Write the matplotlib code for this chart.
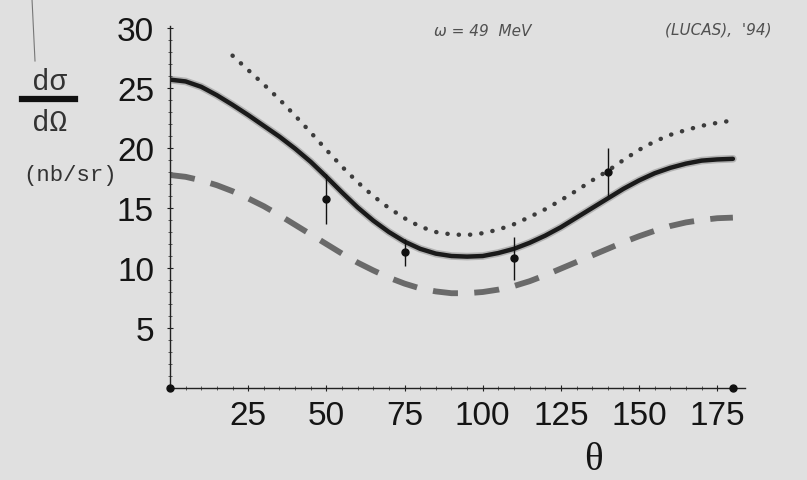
import matplotlib.pyplot as plt
from matplotlib.ticker import MultipleLocator
from matplotlib.lines import Line2D

# angles (deg) and cross sections (nb/sr)
theta = [0, 5, 10, 15, 20, 25, 30, 35, 40, 45, 50, 55, 60, 65, 70, 75, 80, 85, 90,
         95, 100, 105, 110, 115, 120, 125, 130, 135, 140, 145, 150, 155, 160, 165,
         170, 175, 180]
sigma_full = [25.7, 25.55, 25.1, 24.4, 23.6, 22.75, 21.85, 20.95, 19.95, 18.85, 17.6,
              16.3, 15.05, 13.95, 13.0, 12.2, 11.6, 11.2, 11.0, 10.95, 11.0, 11.25,
              11.6, 12.1, 12.7, 13.4, 14.2, 15.0, 15.8, 16.6, 17.3, 17.9, 18.35, 18.7,
              18.95, 19.05, 19.1]
sigma_lower = [17.75, 17.6, 17.3, 16.9, 16.4, 15.8, 15.15, 14.4, 13.6, 12.8, 12.0, 11.2,
               10.45, 9.8, 9.2, 8.7, 8.3, 8.05, 7.9, 7.9, 8.0, 8.2, 8.5, 8.9, 9.4, 9.95,
               10.5, 11.05, 11.6, 12.15, 12.65, 13.1, 13.5, 13.8, 14.0, 14.15, 14.2]
theta_upper = [20, 25, 30, 35, 40, 45, 50, 55, 60, 65, 70, 75, 80, 85, 90, 95, 100,
               105, 110, 115, 120, 125, 130, 135, 140, 145, 150, 155, 160, 165, 170,
               175, 180]
sigma_upper = [27.7, 26.5, 25.3, 24.05, 22.7, 21.3, 19.85, 18.45, 17.15, 16.0, 15.0,
               14.15, 13.45, 13.0, 12.8, 12.75, 12.9, 13.2, 13.65, 14.25, 14.9, 15.65,
               16.45, 17.3, 18.1, 19.0, 19.85, 20.55, 21.1, 21.5, 21.85, 22.1, 22.3]

# measured points
data_theta = [50, 75, 110, 140]
data_sigma = [15.75, 11.3, 10.8, 18.0]
data_err = [2.1, 1.1, 1.8, 2.0]

x_ticks = [25, 50, 75, 100, 125, 150, 175]
y_ticks = [5, 10, 15, 20, 25, 30]

bg = '#e0e0e0'
fig = plt.figure(figsize=(8.07, 4.81), dpi=100, facecolor=bg)
ax = fig.add_axes([170 / 807, 92 / 481, 575.4 / 807, 362 / 481])
ax.set_facecolor('none')
ax.set_xlim(0, 184)
ax.set_ylim(0, 30.17)

for s in ['top', 'right']:
    ax.spines[s].set_visible(False)
for s in ['left', 'bottom']:
    ax.spines[s].set_linewidth(1.0)
    ax.spines[s].set_color('#222222')

ax.set_xticks(x_ticks)
ax.set_yticks(y_ticks)
ax.xaxis.set_minor_locator(MultipleLocator(5))
ax.yaxis.set_minor_locator(MultipleLocator(1))
ax.tick_params(axis='both', which='major', direction='inout', length=5, width=0.8,
               colors='#222222', labelsize=24, labelcolor='#151515')
ax.tick_params(axis='both', which='minor', direction='inout', length=3, width=0.6,
               colors='#444444')
ax.tick_params(axis='x', which='major', pad=6)
ax.tick_params(axis='y', which='major', pad=9)
for lab in ax.get_xticklabels() + ax.get_yticklabels():
    lab.set_family(['Liberation Sans', 'DejaVu Sans'])

# theory curves
ax.plot(theta, sigma_full, color='#303030', lw=5.5, alpha=0.25, solid_capstyle='round',
        solid_joinstyle='round')
ax.plot(theta, sigma_full, color='#1a1a1a', lw=3.2, solid_capstyle='round',
        solid_joinstyle='round')
ax.plot(theta_upper, sigma_upper, color='#3c3c3c', lw=3.2,
        linestyle=(0, (0.05, 2.5)), dash_capstyle='round')
ax.plot(theta, sigma_lower, color='#6a6a6a', lw=4.2,
        linestyle=(0, (4.3, 2.8)), dash_capstyle='butt')

# data with error bars
ax.errorbar(data_theta, data_sigma, yerr=data_err, fmt='o', color='#111111',
            ms=5, elinewidth=1.0, capsize=0, zorder=5)

# endpoint dots on the angle axis
ax.plot([0, 180], [0, 0], 'o', color='#111111', ms=5, clip_on=False, zorder=6)

# axis labels
mono = ['Liberation Mono', 'DejaVu Sans Mono']
fig.text(49 / 807, 1 - 82 / 481, 'dσ', family=mono, fontsize=21, ha='center', va='center',
         color='#333333')
fig.add_artist(Line2D([22 / 807, 75 / 807], [1 - 100 / 481, 1 - 100 / 481], lw=4.5,
                      color='#111111'))
fig.text(50 / 807, 1 - 123 / 481, 'dΩ', family=mono, fontsize=21, ha='center', va='center',
         color='#333333')
fig.text(70 / 807, 1 - 176 / 481, '(nb/sr)', family=mono, fontsize=16, ha='center',
         va='center', color='#333333')
fig.text(593 / 807, 1 - 460 / 481, 'θ', family=['Liberation Serif', 'DejaVu Serif'],
         fontsize=28, ha='center', va='center', color='#151515')

# handwritten notes at the top
fig.text(483 / 807, 1 - 31 / 481, 'ω = 49  MeV', fontsize=11, ha='center', va='center',
         color='#505050', style='italic')
fig.text(718 / 807, 1 - 30 / 481, "(LUCAS),  '94)", fontsize=11, ha='center',
         va='center', color='#505050', style='italic')

# stray pen line in the upper left corner
fig.add_artist(Line2D([32 / 807, 35 / 807], [1.0, 1 - 62 / 481], lw=0.8, color='#777777'))

fig.savefig('out.png', dpi=100, facecolor=bg)
